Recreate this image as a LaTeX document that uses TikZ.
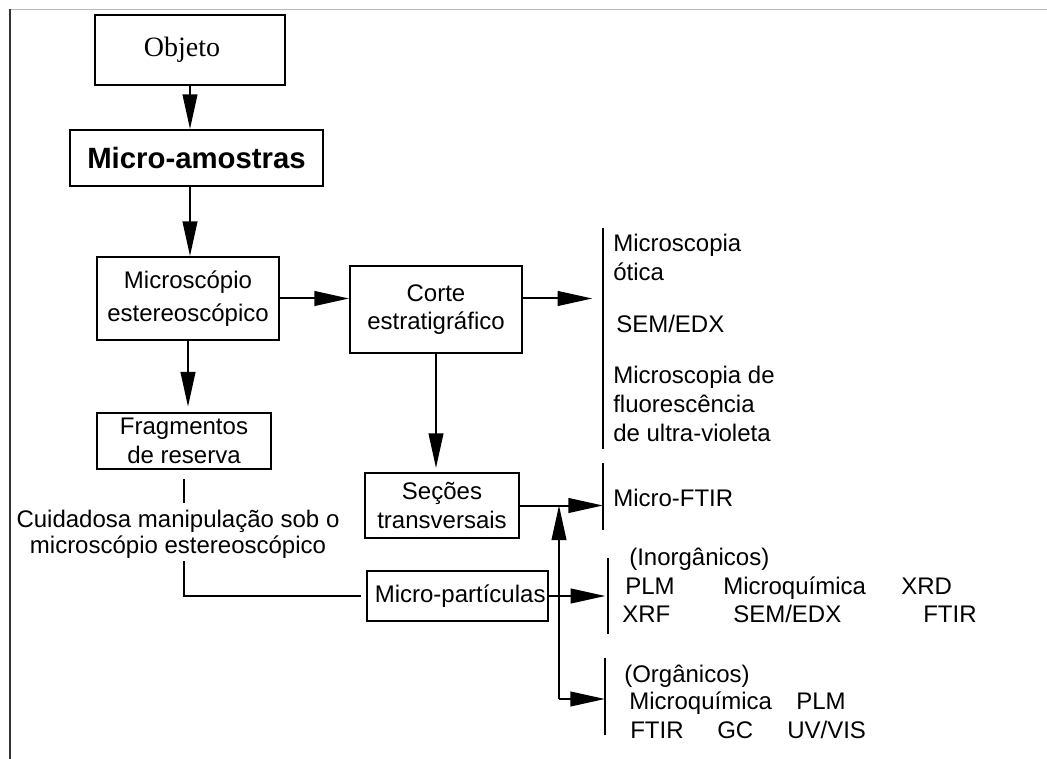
\documentclass[tikz,border=0pt]{standalone}
\usepackage{fontspec}
\setmainfont{Liberation Sans}
\newfontfamily\timesfont{Liberation Serif}
\usetikzlibrary{arrows.meta}
\newcommand{\px}{0.75pt}
\newcommand{\texto}{\fontsize{18}{21.5}\selectfont}
\tikzset{
	caixa/.style={draw,line width=1.5pt,align=center,inner sep=0pt,font=\texto},
	rotulo/.style={anchor=base west,inner sep=0pt,font=\texto},
	barra/.style={line width=1.5pt},
	seta/.style={line width=1.5pt,->}
}
\begin{document}
\begin{tikzpicture}[line cap=butt,line join=miter,>={Triangle[length=26pt,width=11pt]},x=0.75pt,y=-0.75pt]
				\useasboundingbox (0,0) rectangle (1047,759);
				\draw [line width=1.2pt,color=gray!55] (10,9.5)-- (1047,9.5);
				\draw [line width=1.8pt,color=black!80] (10,9)-- (10,759);
				\node[caixa,minimum width=190*\px,minimum height=70*\px,font=\timesfont\fontsize{21}{25}\selectfont] (objeto) at (190,50) {Objeto\hspace{12pt}};
				\node[caixa,minimum width=253*\px,minimum height=56*\px,font=\bfseries\fontsize{22}{26}\selectfont] (amostras) at (196.5,158) {Micro-amostras};
				\node[caixa,minimum width=182*\px,minimum height=83*\px] (microscopio) at (188,298.5) {Microscópio\\[3pt]estereoscópico};
				\node[caixa,minimum width=172*\px,minimum height=87*\px] (corte) at (436,309.5) {Corte\\estratigráfico};
				\node[caixa,minimum width=174*\px,minimum height=56*\px] (fragmentos) at (184,441) {Fragmentos\\de reserva};
				\node[caixa,minimum width=154*\px,minimum height=65*\px] (secoes) at (442,505.5) {Seções\\transversais};
				\node[caixa,minimum width=181*\px,minimum height=50*\px] (particulas) at (457.5,596) {\hspace{4pt}Micro-partículas};
				\node[align=center,inner sep=0pt,font=\fontsize{18}{19.5}\selectfont] (cuidado) at (178,534) {Cuidadosa manipulação sob o\\microscópio estereoscópico};
				\coordinate (b1t) at (603,228);
				\coordinate (b1b) at (603,449);
				\coordinate (b2t) at (603,463);
				\coordinate (b2b) at (603,530);
				\coordinate (b3t) at (608,558);
				\coordinate (b3b) at (608,634);
				\coordinate (b4t) at (605,658);
				\coordinate (b4b) at (605,735);
				\coordinate (baixo) at (559,699);
				\coordinate (cima) at (secoes.east -| baixo);
				\draw [barra] (b1t)-- (b1b);
				\draw [barra] (b2t)-- (b2b);
				\draw [barra] (b3t)-- (b3b);
				\draw [barra] (b4t)-- (b4b);
				\draw [seta] (objeto.south)-- (objeto.south |- amostras.north);
				\draw [seta] (amostras.south -| objeto.south)-- (objeto.south |- microscopio.north);
				\draw [seta] (microscopio.east)-- (microscopio.east -| corte.west);
				\draw [seta,shorten >=8pt] (microscopio.east -| corte.east)-- (microscopio.east -| b1t);
				\draw [seta,shorten >=4pt] (microscopio.south)-- (microscopio.south |- fragmentos.north);
				\draw [seta,shorten >=3pt] (corte.south)-- (corte.south |- secoes.north);
				\draw [seta] (secoes.east)-- (secoes.east -| b2t);
				\draw [seta] (baixo)-- (cima);
				\draw [seta] (baixo)-- (baixo -| b4t);
				\draw [seta,shorten >=2pt] (particulas.east)-- (particulas.east -| b3t);
				\draw [line width=1.5pt,shorten <=7pt,shorten >=5pt] (fragmentos.south)-- (fragmentos.south |- cuidado.north);
				\draw [line width=1.5pt,shorten <=2pt,shorten >=4pt] (cuidado.south -| fragmentos.south) |- (particulas.west);
				\node[rotulo] (mic1) at (613,252) {Microscopia};
				\node[rotulo] (otica) at (613,281) {ótica};
				\node[rotulo] (semedx) at (616,333) {SEM/EDX};
				\node[rotulo] (mic2) at (613,384) {Microscopia de};
				\node[rotulo] (fluor) at (613,413) {fluorescência};
				\node[rotulo] (ultra) at (613,442) {de ultra-violeta};
				\node[rotulo] (microftir) at (613,507) {Micro-FTIR};
				\node[rotulo] (inorg) at (629,565) {(Inorgânicos)};
				\node[rotulo] (plm1) at (625,594) {PLM};
				\node[rotulo] (microq1) at (723,594) {Microquímica};
				\node[rotulo] (xrd) at (901,594) {XRD};
				\node[rotulo] (xrf) at (622,622) {XRF};
				\node[rotulo] (semedx2) at (733,622) {SEM/EDX};
				\node[rotulo] (ftir1) at (923,622) {FTIR};
				\node[rotulo] (org) at (624,682) {(Orgânicos)};
				\node[rotulo] (microq2) at (629,709) {Microquímica};
				\node[rotulo] (plm2) at (796,709) {PLM};
				\node[rotulo] (ftir2) at (630,738) {FTIR};
				\node[rotulo] (gc) at (717,738) {GC};
				\node[rotulo] (uvvis) at (787,738) {UV/VIS};
\end{tikzpicture}
\end{document}
